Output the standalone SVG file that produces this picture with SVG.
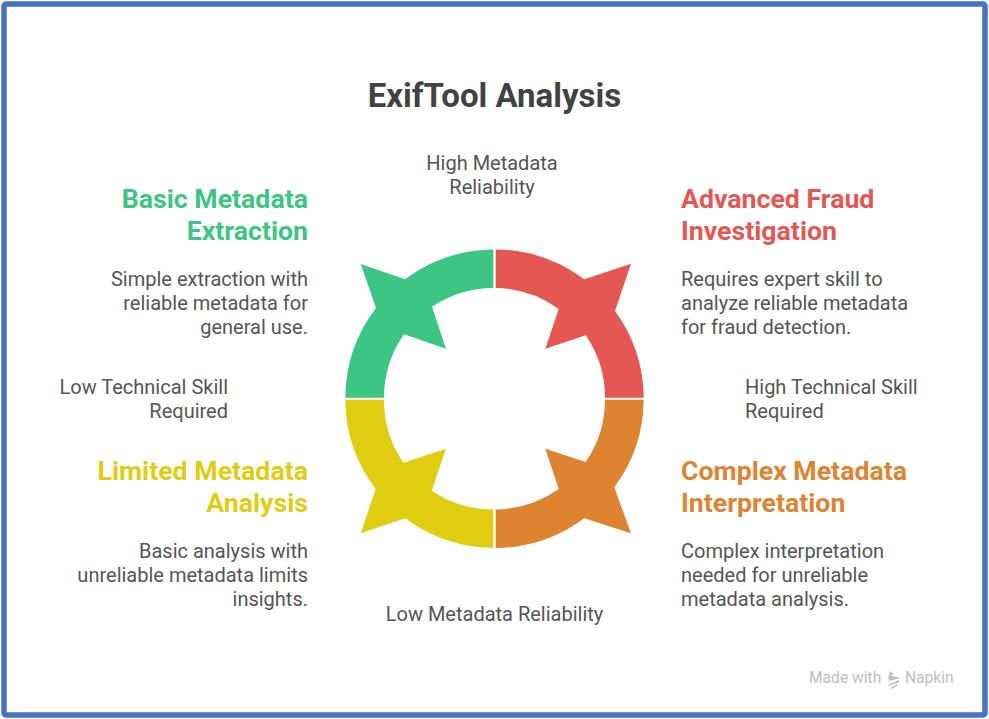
<svg xmlns="http://www.w3.org/2000/svg" width="989" height="719" viewBox="0 0 989 719">
<style>
text{font-family:Roboto,"Liberation Sans",sans-serif}
.t{font-size:33px;font-weight:700;fill:#424242}
.h{font-size:26.700px;font-weight:700}
.b{font-size:20px;fill:#555}
.e{text-anchor:end}.m{text-anchor:middle}
.w{font-size:15.600px;fill:#c0c0c0}
.g{fill:#3cc583}.r{fill:#e55753}.y{fill:#e0cd12}.o{fill:#de8431}
</style>
<rect x="0" y="0" width="989" height="719" fill="#fff"/>
<rect x="4" y="4" width="981" height="711" rx="2" fill="none" stroke="#4472c4" stroke-width="5.5"/>
<g id="title"><text class="t m" x="494.500" y="107">ExifTool Analysis</text></g>
<g id="axes">
<text class="b m" x="492" y="169.500">High Metadata</text><text class="b m" x="492" y="193.500">Reliability</text>
<text class="b m" x="494.500" y="620.500">Low Metadata Reliability</text>
<text class="b e" x="228" y="393.500">Low Technical Skill</text><text class="b e" x="228" y="417.500">Required</text>
<text class="b" x="745" y="393.500">High Technical Skill</text><text class="b" x="745" y="417.500">Required</text>
</g>
<g id="connectors">
<path id="seg-red" class="r" d="M495.700 249.500A149 149 0 0 1 584.300 279.300L631 263.700L615 311A149 149 0 0 1 643.700 397.700H605A110.500 110.500 0 0 0 585.700 335.300L545.300 348.700L558.700 309A110.500 110.500 0 0 0 495.700 287.900Z"/>
<path id="seg-green" class="g" d="M493.300 249.500A149 149 0 0 0 405 279.300L360.700 264L376 308A149 149 0 0 0 345.300 397.700H384A110.500 110.500 0 0 1 404 334.300L446 348.700L432 306.700A110.500 110.500 0 0 1 493.300 287.900Z"/>
<path id="seg-orange" class="o" d="M495.700 547.900A149 149 0 0 0 584.300 518.300L631 533.300L614.300 487.300A149 149 0 0 0 643.700 399.700H605A110.500 110.500 0 0 1 585.700 462L545.300 448.700L558.700 489A110.500 110.500 0 0 1 495.700 509.500Z"/>
<path id="seg-yellow" class="y" d="M493.300 547.900A149 149 0 0 1 405.300 518.300L360.700 533.300L375.700 489A149 149 0 0 1 345.300 399.700H384A110.500 110.500 0 0 0 403.300 462.700L446 448.700L431.700 490.700A110.500 110.500 0 0 0 493.300 509.500Z"/>
</g>
<g id="node-basic">
<text class="h e g" x="308" y="208">Basic Metadata</text><text class="h e g" x="308" y="240">Extraction</text>
<text class="b e" x="308" y="285.500">Simple extraction with</text><text class="b e" x="308" y="309.500">reliable metadata for</text><text class="b e" x="308" y="333.500">general use.</text>
</g>
<g id="node-advanced">
<text class="h r" x="681" y="208">Advanced Fraud</text><text class="h r" x="681" y="240">Investigation</text>
<text class="b" x="681" y="285.500">Requires expert skill to</text><text class="b" x="681" y="309.500">analyze reliable metadata</text><text class="b" x="681" y="333.500">for fraud detection.</text>
</g>
<g id="node-limited">
<text class="h e y" x="308" y="480">Limited Metadata</text><text class="h e y" x="308" y="512">Analysis</text>
<text class="b e" x="308" y="557.500">Basic analysis with</text><text class="b e" x="308" y="581.500">unreliable metadata limits</text><text class="b e" x="308" y="605.500">insights.</text>
</g>
<g id="node-complex">
<text class="h o" x="681" y="480">Complex Metadata</text><text class="h o" x="681" y="512">Interpretation</text>
<text class="b" x="681" y="557.500">Complex interpretation</text><text class="b" x="681" y="581.500">needed for unreliable</text><text class="b" x="681" y="605.500">metadata analysis.</text>
</g>
<g id="watermark">
<text class="w" x="809" y="683">Made with</text>
<path d="M889 671l5 3-4 2zM888 675l12 3-11 3zM899 680l-11 5 1 1 10-4zM897 684l-7 4 1 1 6-3z" fill="#bdbdbd"/>
<text class="w" x="905" y="683">Napkin</text>
</g>
</svg>
